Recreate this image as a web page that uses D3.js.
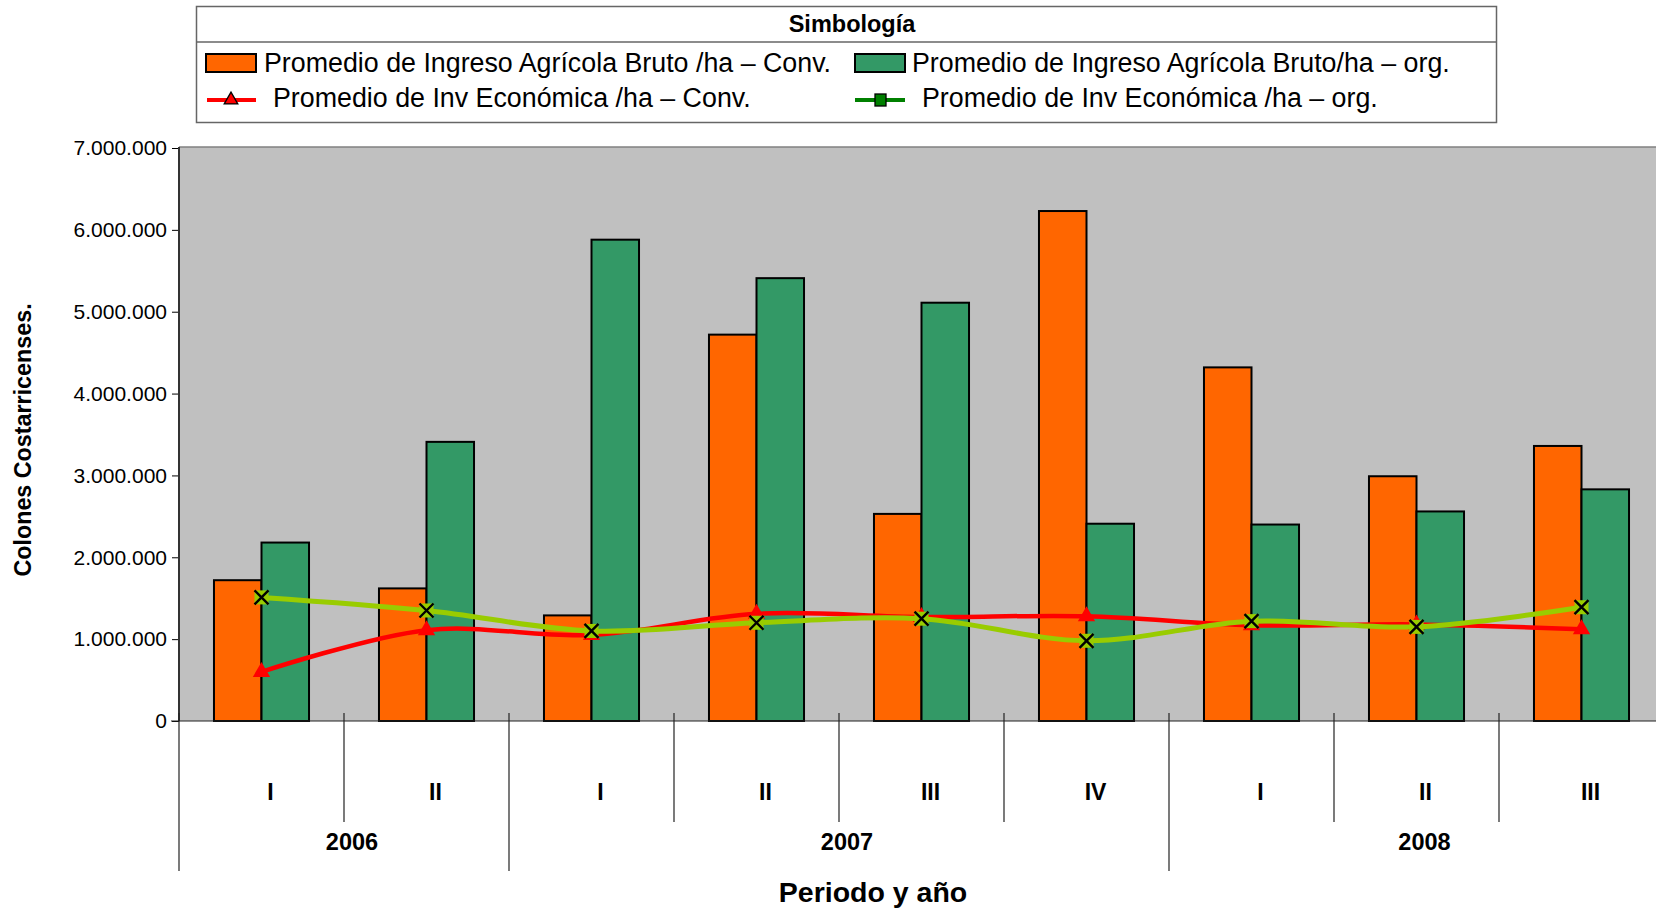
<!DOCTYPE html>
<html>
<head>
<meta charset="utf-8">
<script src="https://cdn.jsdelivr.net/npm/d3@7"></script>
<style>
  html, body { margin: 0; padding: 0; background: #fff; }
  svg { display: block; font-family: "Liberation Sans", Arial, sans-serif; }
</style>
</head>
<body>
<div id="chart"></div>
<script>
// periods and years on the x axis
var periods = ["I", "II", "I", "II", "III", "IV", "I", "II", "III"];
var years = ["2006", "2007", "2008"];
var yearSpans = [2, 4, 3];

// series (colones / ha)
var ingresoConv = [1720000, 1620000, 1290000, 4720000, 2530000, 6230000, 4320000, 2990000, 3360000];
var ingresoOrg  = [2180000, 3410000, 5880000, 5410000, 5110000, 2410000, 2400000, 2560000, 2830000];
var invConv     = [600000, 1110000, 1050000, 1310000, 1270000, 1280000, 1170000, 1180000, 1120000];
var invOrg      = [1510000, 1350000, 1100000, 1200000, 1250000, 980000, 1220000, 1150000, 1390000];

var yTicks = [0, 1000000, 2000000, 3000000, 4000000, 5000000, 6000000, 7000000];

var legendNames = [
    "Promedio de Ingreso Agrícola Bruto /ha – Conv.",
    "Promedio de Ingreso Agrícola Bruto/ha – org.",
    "Promedio de Inv Económica /ha – Conv.",
    "Promedio de Inv Económica /ha – org."
];

var W = 1656, H = 910;
var plotLeft = 179, plotRight = 1664, plotTop = 148, plotBottom = 721;

var svg = d3.select("#chart").append("svg")
    .attr("width", W)
    .attr("height", H);

var locale = d3.formatLocale({ decimal: ",", thousands: ".", grouping: [3], currency: ["", ""] });
var fmt = locale.format(",");

var idx = d3.range(periods.length);

var x = d3.scaleBand()
    .domain(idx)
    .range([plotLeft, plotRight])
    .padding(0);

var x1 = d3.scaleBand()
    .domain(["conv", "org"])
    .range([x.bandwidth() * 0.212, x.bandwidth() * 0.788]);

var y = d3.scaleLinear()
    .domain([0, 7000000])
    .range([plotBottom, plotTop]);

// plot background
svg.append("rect")
    .attr("x", plotLeft)
    .attr("y", plotTop - 1)
    .attr("width", plotRight - plotLeft)
    .attr("height", plotBottom - plotTop + 1)
    .attr("fill", "#c0c0c0");
svg.append("line")
    .attr("x1", plotLeft).attr("x2", plotRight)
    .attr("y1", plotTop - 1).attr("y2", plotTop - 1)
    .attr("stroke", "#808080").attr("stroke-width", 1.5);

// bars
var g = svg.append("g");
g.selectAll(".bc").data(idx).enter().append("rect")
    .attr("x", function(d) { return x(d) + x1("conv"); })
    .attr("y", function(d) { return y(ingresoConv[d]); })
    .attr("width", x1.bandwidth())
    .attr("height", function(d) { return y(0) - y(ingresoConv[d]); })
    .attr("fill", "#ff6600")
    .attr("stroke", "#000")
    .attr("stroke-width", 2);
g.selectAll(".bo").data(idx).enter().append("rect")
    .attr("x", function(d) { return x(d) + x1("org"); })
    .attr("y", function(d) { return y(ingresoOrg[d]); })
    .attr("width", x1.bandwidth())
    .attr("height", function(d) { return y(0) - y(ingresoOrg[d]); })
    .attr("fill", "#339966")
    .attr("stroke", "#000")
    .attr("stroke-width", 2);

// y axis
var yAxis = svg.append("g")
    .attr("transform", "translate(" + plotLeft + ",0)")
    .call(d3.axisLeft(y).tickValues(yTicks).tickFormat(fmt).tickSize(7).tickPadding(5));
yAxis.select(".domain").remove();
yAxis.selectAll("text")
    .attr("font-size", 21)
    .attr("fill", "#000")
    .style("font-family", "Liberation Sans, Arial, sans-serif");
yAxis.selectAll("line").attr("stroke", "#000");

svg.append("line")
    .attr("x1", plotLeft).attr("x2", plotLeft)
    .attr("y1", plotTop - 1).attr("y2", plotBottom)
    .attr("stroke", "#333").attr("stroke-width", 2);
svg.append("line")
    .attr("x1", plotLeft - 8).attr("x2", plotRight)
    .attr("y1", plotBottom).attr("y2", plotBottom)
    .attr("stroke", "#222").attr("stroke-width", 1.2);

// x axis dividers
var yearStart = [0];
yearSpans.forEach(function(s, i) { yearStart.push(yearStart[i] + s); });

var bounds = d3.range(periods.length + 1);
svg.selectAll(".div").data(bounds).enter().append("line")
    .attr("x1", function(d) { return plotLeft + d * x.bandwidth(); })
    .attr("x2", function(d) { return plotLeft + d * x.bandwidth(); })
    .attr("y1", plotBottom - 8)
    .attr("y2", function(d) { return yearStart.indexOf(d) >= 0 ? 871 : 822; })
    .attr("stroke", "#222")
    .attr("stroke-width", 1.2);

svg.selectAll(".per").data(idx).enter().append("text")
    .attr("x", function(d) { return x(d) + x.bandwidth() / 2 + 9; })
    .attr("y", 800)
    .attr("text-anchor", "middle")
    .attr("font-size", 23)
    .attr("font-weight", "bold")
    .text(function(d) { return periods[d]; });

svg.selectAll(".yr").data(years).enter().append("text")
    .attr("x", function(d, i) {
        return plotLeft + (yearStart[i] + yearSpans[i] / 2) * x.bandwidth() + 8;
    })
    .attr("y", 850)
    .attr("text-anchor", "middle")
    .attr("font-size", 23.5)
    .attr("font-weight", "bold")
    .text(function(d) { return d; });

// axis titles
svg.append("text")
    .attr("x", 873)
    .attr("y", 902)
    .attr("text-anchor", "middle")
    .attr("font-size", 28.5)
    .attr("font-weight", "bold")
    .text("Periodo y año");

svg.append("text")
    .attr("transform", "translate(31,440) rotate(-90)")
    .attr("text-anchor", "middle")
    .attr("font-size", 23.3)
    .attr("font-weight", "bold")
    .text("Colones Costarricenses.");

// lines
var cx = function(d) { return x(d) + x.bandwidth() / 2; };

var lineConv = d3.line()
    .x(cx)
    .y(function(d) { return y(invConv[d]); })
    .curve(d3.curveCatmullRom.alpha(0.5));
var lineOrg = d3.line()
    .x(cx)
    .y(function(d) { return y(invOrg[d]); })
    .curve(d3.curveCatmullRom.alpha(0.5));

svg.append("path")
    .datum(idx)
    .attr("d", lineConv)
    .attr("fill", "none")
    .attr("stroke", "#ff0000")
    .attr("stroke-width", 4.5);

var tri = d3.symbol().type(d3.symbolTriangle).size(130);
svg.selectAll(".mc").data(idx).enter().append("path")
    .attr("d", tri)
    .attr("transform", function(d) { return "translate(" + cx(d) + "," + y(invConv[d]) + ")"; })
    .attr("fill", "#ff0000");

svg.append("path")
    .datum(idx)
    .attr("d", lineOrg)
    .attr("fill", "none")
    .attr("stroke", "#99cc00")
    .attr("stroke-width", 5);

var mo = svg.selectAll(".mo").data(idx).enter().append("g")
    .attr("transform", function(d) { return "translate(" + cx(d) + "," + y(invOrg[d]) + ")"; });
mo.append("rect")
    .attr("x", -7).attr("y", -7).attr("width", 14).attr("height", 14)
    .attr("fill", "#99cc00");
mo.append("path")
    .attr("d", "M-7,-7L7,7M-7,7L7,-7")
    .attr("stroke", "#000")
    .attr("stroke-width", 2.4);

// legend
var lg = svg.append("g");
lg.append("rect")
    .attr("x", 196.5).attr("y", 6.5)
    .attr("width", 1300).attr("height", 116)
    .attr("fill", "#fff")
    .attr("stroke", "#666")
    .attr("stroke-width", 1.5);
lg.append("line")
    .attr("x1", 196.5).attr("x2", 1496.5)
    .attr("y1", 42).attr("y2", 42)
    .attr("stroke", "#666").attr("stroke-width", 1.5);
lg.append("text")
    .attr("x", 852).attr("y", 32)
    .attr("text-anchor", "middle")
    .attr("font-size", 23.5)
    .attr("font-weight", "bold")
    .text("Simbología");

var barItems = [
    { x: 206, fill: "#ff6600", tx: 264, name: legendNames[0] },
    { x: 855, fill: "#339966", tx: 912, name: legendNames[1] }
];
barItems.forEach(function(it) {
    lg.append("rect")
        .attr("x", it.x).attr("y", 54)
        .attr("width", 50).attr("height", 18)
        .attr("fill", it.fill)
        .attr("stroke", "#000").attr("stroke-width", 2);
    lg.append("text")
        .attr("x", it.tx).attr("y", 72)
        .attr("font-size", 26.8)
        .text(it.name);
});

lg.append("line")
    .attr("x1", 207).attr("x2", 256).attr("y1", 100).attr("y2", 100)
    .attr("stroke", "#ff0000").attr("stroke-width", 4);
lg.append("path")
    .attr("d", d3.symbol().type(d3.symbolTriangle).size(80))
    .attr("transform", "translate(231,100)")
    .attr("fill", "#ff0000")
    .attr("stroke", "#000").attr("stroke-width", 1.3);
lg.append("text")
    .attr("x", 273).attr("y", 107)
    .attr("font-size", 26.8)
    .text(legendNames[2]);

lg.append("line")
    .attr("x1", 855).attr("x2", 905).attr("y1", 100).attr("y2", 100)
    .attr("stroke", "#008000").attr("stroke-width", 4);
lg.append("rect")
    .attr("x", 875).attr("y", 94).attr("width", 11).attr("height", 12)
    .attr("fill", "#008000")
    .attr("stroke", "#000").attr("stroke-width", 1.3);
lg.append("text")
    .attr("x", 922).attr("y", 107)
    .attr("font-size", 26.8)
    .text(legendNames[3]);
</script>
</body>
</html>
